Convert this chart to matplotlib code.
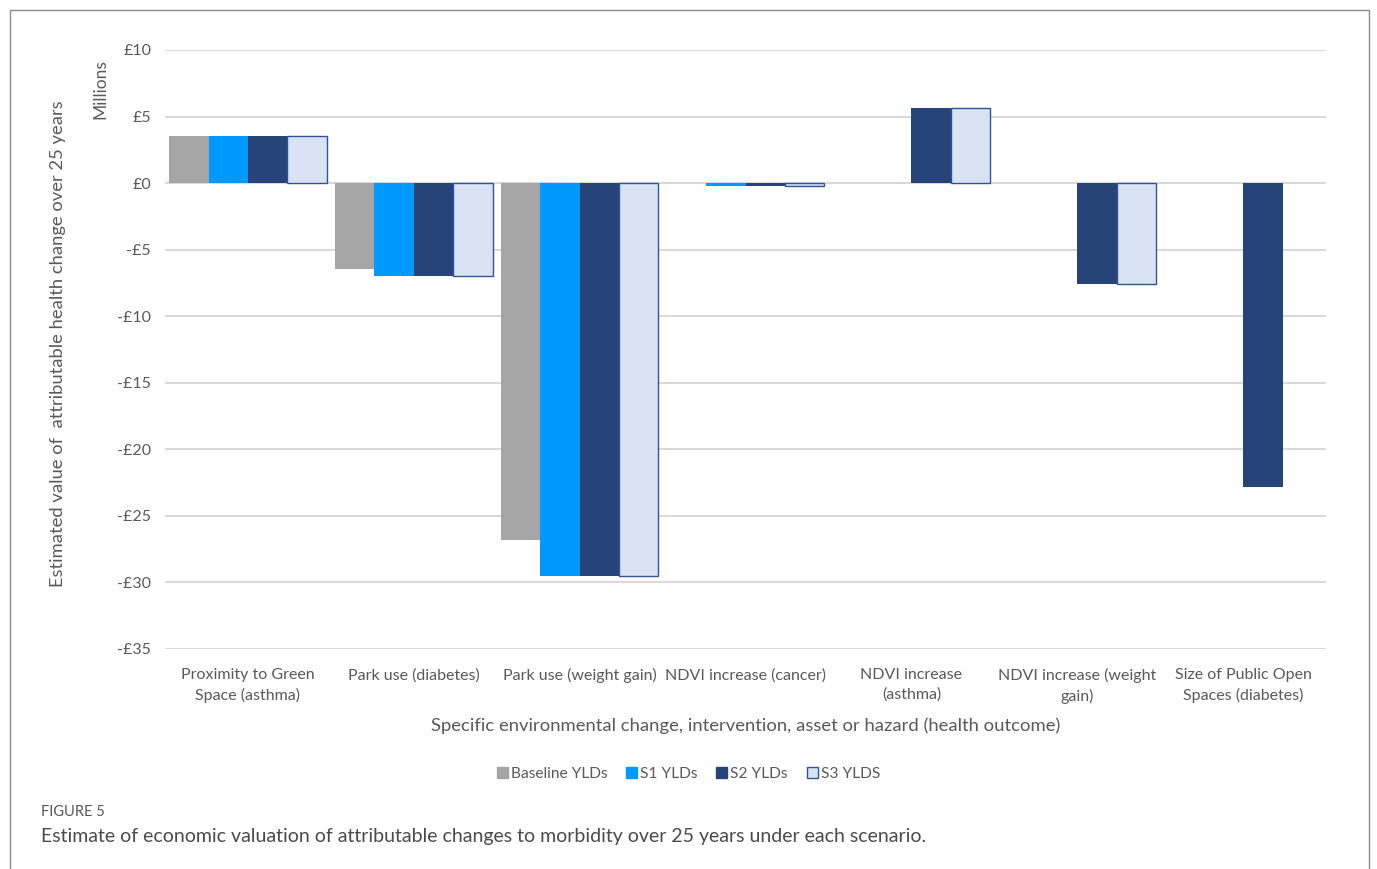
import numpy as np
import matplotlib
matplotlib.use('Agg')
from matplotlib import pyplot as plt
from matplotlib.patches import Rectangle

categories = ['Proximity to Green\nSpace (asthma)', 'Park use (diabetes)', 'Park use (weight gain)',
              'NDVI increase (cancer)', 'NDVI increase\n(asthma)', 'NDVI increase (weight\ngain)',
              'Size of Public Open\nSpaces (diabetes)']
baseline = [3.5, -6.45, -26.8, 0.0, 0.0, 0.0, 0.0]
s1 = [3.5, -7.0, -29.5, -0.22, 0.0, 0.0, 0.0]
s2 = [3.5, -7.0, -29.5, -0.22, 5.65, -7.6, -22.8]
s3 = [3.5, -7.0, -29.5, -0.22, 5.65, -7.6, 0.0]
series_names = ['Baseline YLDs', 'S1 YLDs', 'S2 YLDs', 'S3 YLDS']
yticks = [10, 5, 0, -5, -10, -15, -20, -25, -30, -35]

plt.rcParams['font.family'] = ['Lato', 'DejaVu Sans']

fig = plt.figure(figsize=(13.77, 8.69), dpi=100)
ax = fig.add_axes([0.1198, 0.2532, 0.8432, 0.6893])

x = np.arange(len(categories))
w = 0.2375
colors = ['#A5A5A5', '#0099FF', '#264478', '#DAE3F3']
edges = ['#A5A5A5', '#0099FF', '#264478', '#2F5597']
for i, vals in enumerate([baseline, s1, s2, s3]):
    lw = [1 if (i == 3 and v != 0) else 0 for v in vals]
    ax.bar(x + (i - 1.5) * w, vals, w, color=colors[i], edgecolor=edges[i],
           linewidth=lw, label=series_names[i], zorder=3)

ax.set_xlim(-0.5, len(categories) - 0.5)
ax.set_ylim(-35, 10)
ax.set_yticks(yticks)
ax.set_yticklabels([('-£%d' % abs(v)) if v < 0 else '£%d' % v for v in yticks],
                   fontsize=11.5, color='#595959')
ax.set_xticks(x)
ax.set_xticklabels(categories, fontsize=11.5, color='#595959', linespacing=1.45)
ax.tick_params(axis='x', length=0, pad=14)
ax.tick_params(axis='y', length=0, pad=10)
for s in ax.spines.values():
    s.set_visible(False)
ax.grid(axis='y', color='#D9D9D9', linewidth=1.5, zorder=0)

ax.set_xlabel('Specific environmental change, intervention, asset or hazard (health outcome)',
              fontsize=13.3, color='#595959', labelpad=10)
fig.text(0.042, 0.604, 'Estimated value of  attributable health change over 25 years',
         rotation=90, ha='center', va='center', fontsize=13.2, color='#595959')
fig.text(0.073, 0.898, 'Millions', rotation=90, ha='center', va='center',
         fontsize=12.5, color='#595959')

leg = fig.legend(loc='center', bbox_to_anchor=(0.5, 0.109), ncol=4, frameon=False,
                 fontsize=11.2, handlelength=0.7, handleheight=0.7, handletextpad=0.2,
                 columnspacing=1.2, labelcolor='#595959')
for h in leg.legend_handles:
    h.set_linewidth(1)

fig.text(0.03, 0.061, 'FIGURE 5', fontsize=10.5, color='#555555')
fig.text(0.03, 0.031, 'Estimate of economic valuation of attributable changes to morbidity over 25 years under each scenario.',
         fontsize=14, color='#4A4A4A')

fig.patches.append(Rectangle((10 / 1377, -0.05), 1359 / 1377, 1 - 10 / 869 + 0.05,
                             transform=fig.transFigure, fill=False,
                             edgecolor='#8C8C8C', linewidth=1))

fig.savefig('out.png', dpi=100)
